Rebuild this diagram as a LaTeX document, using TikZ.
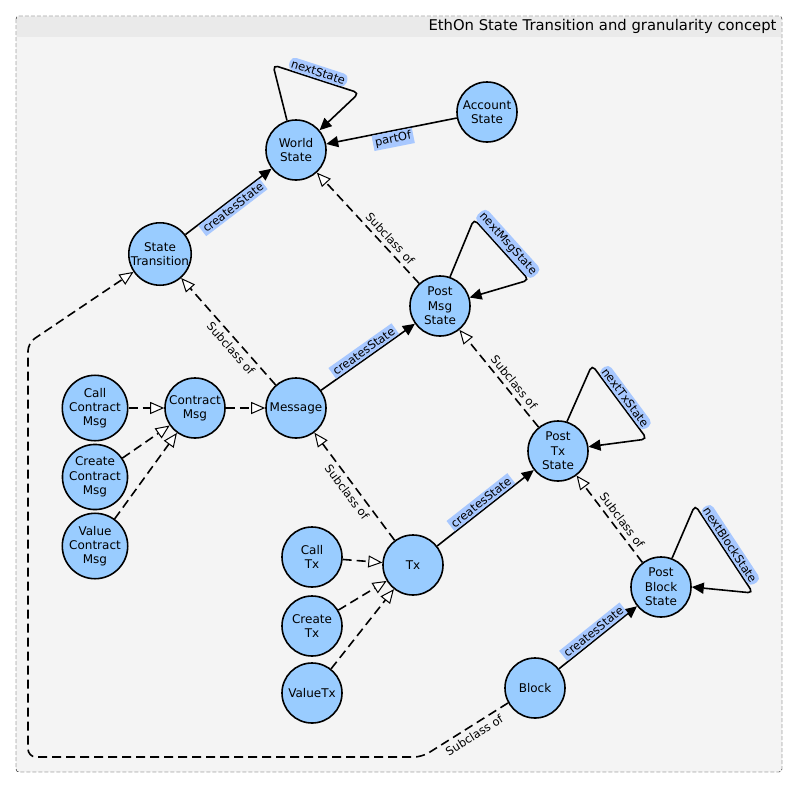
\documentclass[tikz,border=0pt]{standalone}
\usepackage{fontspec}
\setmainfont{DejaVu Sans}
\usetikzlibrary{arrows.meta}
\definecolor{nodeblue}{HTML}{99CCFF}
\definecolor{tagblue}{HTML}{A8C8FF}
\definecolor{paneback}{HTML}{F4F4F4}
\definecolor{panehead}{HTML}{EAEAEA}

\begin{document}
\begin{tikzpicture}[x=1pt,y=-1pt,font=\fontsize{12}{14.3}\selectfont]
  \tikzset{
    cls/.style={draw,circle,line width=1.6pt,fill=nodeblue,minimum size=60pt,inner sep=0pt,align=center},
    prop/.style={draw,line width=1.6pt,-{Triangle[length=12pt,width=11pt]}},
    sub/.style={draw,line width=1.6pt,dash pattern=on 9pt off 5pt,-{Triangle[length=14pt,width=12pt,fill=white,line width=1pt]}},
    tag/.style={fill=tagblue,inner sep=2.2pt,sloped,font=\fontsize{11.5}{13}\selectfont},
    subtag/.style={inner sep=4pt,sloped,font=\fontsize{11.5}{13}\selectfont}
  }
  \useasboundingbox (0,0) rectangle (798,788);
  % frame with title bar
  \draw[fill=paneback,dash pattern=on 4pt off 2pt,rounded corners=3pt] (16,16) rectangle (782,772);
  \fill[panehead] (17,17) rectangle (781,37);
  \node[anchor=east,font=\fontsize{14.8}{16}\selectfont] (title) at (780,26) {EthOn State Transition and granularity concept};

  % classes
  \node[cls] (ws) at (296,150) {World\\State};
  \node[cls] (acs) at (487,112) {Account\\State};
  \node[cls] (st) at (160,254) {State\\Transition};
  \node[cls] (pms) at (440,306) {Post\\Msg\\State};
  \node[cls] (ccm) at (95,408) {Call\\Contract\\Msg};
  \node[cls] (cm) at (195,408) {Contract\\Msg};
  \node[cls] (msg) at (296,408) {Message};
  \node[cls] (crcm) at (95,477) {Create\\Contract\\Msg};
  \node[cls] (vcm) at (95,546) {Value\\Contract\\Msg};
  \node[cls] (pts) at (558,451) {Post\\Tx\\State};
  \node[cls] (pbs) at (661,587) {Post\\Block\\State};
  \node[cls] (tx) at (413,565) {Tx};
  \node[cls] (ctx) at (312,557) {Call\\Tx};
  \node[cls] (crtx) at (312,626) {Create\\Tx};
  \node[cls] (vtx) at (312,693) {ValueTx};
  \node[cls] (blk) at (535,688) {Block};

  % object properties
  \draw[prop] (st) -- node[tag,below] {createsState} (ws);
  \draw[prop] (acs) -- node[tag,below] {partOf} (ws);
  \draw[prop] (msg) -- node[tag,above] {createsState} (pms);
  \draw[prop] (tx) -- node[tag,above] {createsState} (pts);
  \draw[prop] (blk) -- node[tag,above] {createsState} (pbs);
  \draw[prop,rounded corners=5pt] (ws.107) -- (273,65) -- node[tag,above] {nextState} (359,93) -- (ws.40);
  \draw[prop,rounded corners=5pt] (pms.71) -- (474,219) -- node[tag,above] {nextMsgState} (529,280) -- (pms.16);
  \draw[prop,rounded corners=5pt] (pts.73) -- (592,365) -- node[tag,above] {nextTxState} (647,439) -- (pts.8);
  \draw[prop,rounded corners=5pt] (pbs.69) -- (695,505) -- node[tag,above] {nextBlockState} (753,593) -- (pbs.0);

  % subclass relations
  \draw[sub] (pms) -- node[subtag,above,pos=0.35] {Subclass of} (ws);
  \draw[sub] (msg) -- node[subtag,below,pos=0.4] {Subclass of} (st);
  \draw[sub] (tx) -- node[subtag,below] {Subclass of} (msg);
  \draw[sub] (pts) -- node[subtag,above,pos=0.4] {Subclass of} (pms);
  \draw[sub] (pbs) -- node[subtag,above,pos=0.42] {Subclass of} (pts);
  \draw[sub] (ccm) -- (cm);
  \draw[sub] (crcm) -- (cm);
  \draw[sub] (vcm) -- (cm);
  \draw[sub] (cm) -- (msg);
  \draw[sub] (ctx) -- (tx);
  \draw[sub] (crtx) -- (tx);
  \draw[sub] (vtx) -- (tx);
  \draw[sub,rounded corners=8pt] (blk.209) -- node[subtag,below,pos=0.45] {Subclass of} (422,757) -- (28,757) -- (28,343) -- (st);
\end{tikzpicture}
\end{document}
